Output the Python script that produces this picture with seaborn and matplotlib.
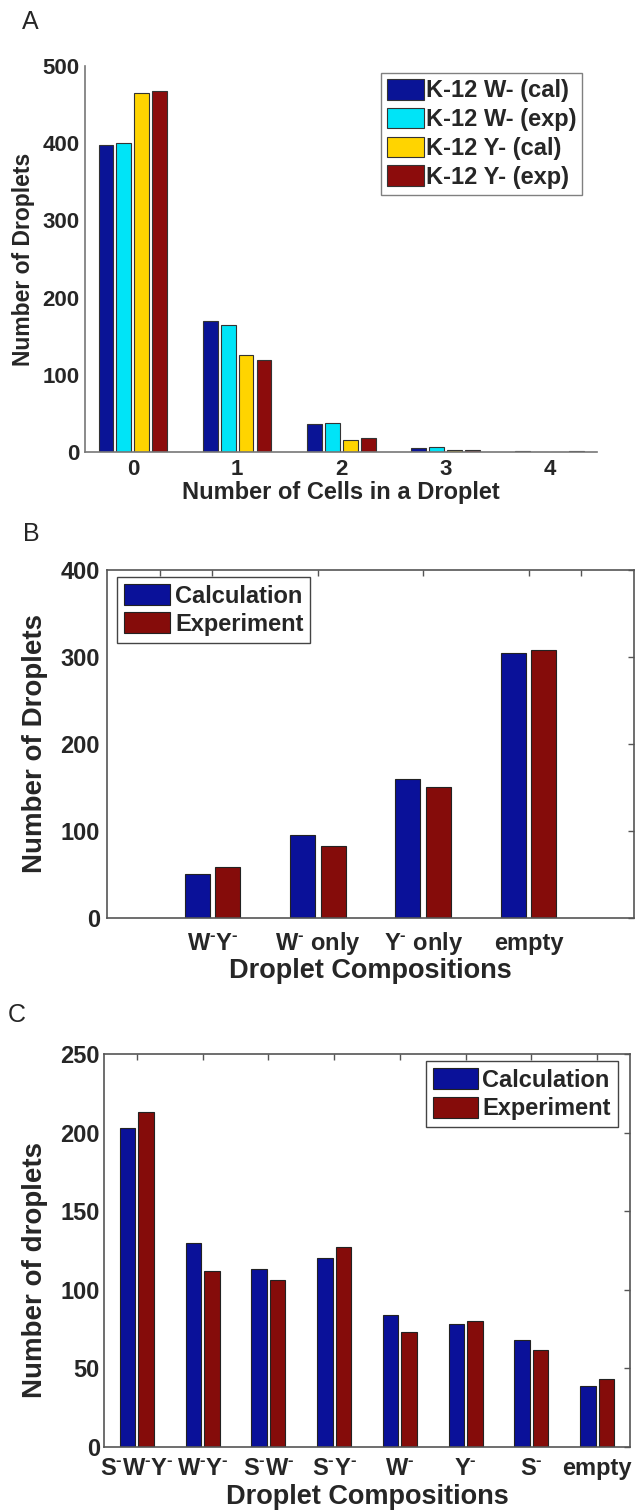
import pandas as pd
import matplotlib
matplotlib.use("Agg")
import matplotlib.pyplot as plt
import seaborn as sns

# Panel A: number of cells in a droplet
cells = ["0", "1", "2", "3", "4"]
series_a = ["K-12 W- (cal)", "K-12 W- (exp)", "K-12 Y- (cal)", "K-12 Y- (exp)"]
w_cal = [397, 169, 36, 5, 1]
w_exp = [400, 165, 38, 7, 0]
y_cal = [465, 125, 16, 2, 0]
y_exp = [468, 119, 18, 3, 1]

# superscript minus, drawn as a small raised hyphen
m = r"$^{\text{-}}$"

# Panel B: two-strain droplet compositions
comp_b = ["W" + m + "Y" + m, "W" + m + " only", "Y" + m + " only", "empty"]
calc_b = [50, 95, 160, 304]
exp_b = [58, 83, 150, 308]

# Panel C: three-strain droplet compositions
comp_c = ["S" + m + "W" + m + "Y" + m, "W" + m + "Y" + m, "S" + m + "W" + m,
          "S" + m + "Y" + m, "W" + m, "Y" + m, "S" + m, "empty"]
calc_c = [203, 130, 113, 120, 84, 78, 68, 39]
exp_c = [213, 112, 106, 127, 73, 80, 62, 43]

colors_a = ["#0a1496", "#00e4f7", "#ffd400", "#8c0c0c"]
colors_bc = ["#0a1199", "#850c0a"]

sns.set_style("white")
plt.rcParams["font.family"] = ["Liberation Sans", "DejaVu Sans"]
plt.rcParams["font.weight"] = "bold"
plt.rcParams["axes.labelweight"] = "bold"
plt.rcParams["mathtext.fontset"] = "custom"
plt.rcParams["mathtext.rm"] = "Liberation Sans:bold"
plt.rcParams["mathtext.default"] = "rm"

df_a = pd.DataFrame({"cells": cells, series_a[0]: w_cal, series_a[1]: w_exp,
                     series_a[2]: y_cal, series_a[3]: y_exp})
df_a = df_a.melt(id_vars="cells", var_name="series", value_name="count")

df_b = pd.DataFrame({"comp": comp_b, "Calculation": calc_b, "Experiment": exp_b})
df_b = df_b.melt(id_vars="comp", var_name="series", value_name="count")

df_c = pd.DataFrame({"comp": comp_c, "Calculation": calc_c, "Experiment": exp_c})
df_c = df_c.melt(id_vars="comp", var_name="series", value_name="count")

fig = plt.figure(figsize=(6.42, 15.10), dpi=100)
ax_a = fig.add_axes([0.1324, 0.7007, 0.798, 0.2556])
ax_b = fig.add_axes([0.1667, 0.3921, 0.8209, 0.2305])
ax_c = fig.add_axes([0.1620, 0.0417, 0.8193, 0.2603])

# ---- A ----
sns.barplot(data=df_a, x="cells", y="count", hue="series", palette=colors_a,
            width=0.69, gap=0.17, edgecolor="#333333", linewidth=0.8,
            saturation=1, errorbar=None, ax=ax_a)
ax_a.set_xlim(-0.46, 4.46)
ax_a.set_ylim(0, 500)
ax_a.set_yticks([0, 100, 200, 300, 400, 500])
ax_a.tick_params(direction="in", length=4, width=1, color="#777777",
                 labelsize=16, pad=4)
ax_a.tick_params(axis="x", pad=5)
for s in ["top", "right"]:
    ax_a.spines[s].set_visible(False)
for s in ["left", "bottom"]:
    ax_a.spines[s].set_color("#777777")
    ax_a.spines[s].set_linewidth(1.2)
ax_a.set_ylabel("Number of Droplets", fontsize=16.5, va="center")
ax_a.set_xlabel("Number of Cells in a Droplet", fontsize=17, va="center")
ax_a.yaxis.set_label_coords(-0.121, 0.5)
ax_a.xaxis.set_label_coords(0.5, -0.104)
sns.move_legend(ax_a, "upper right", bbox_to_anchor=(0.971, 0.982), title=None,
                frameon=True, fontsize=17, handlelength=1.57, handleheight=0.97,
                labelspacing=0.23, borderpad=0.25, handletextpad=0.1,
                borderaxespad=0, fancybox=False, edgecolor="#808080",
                framealpha=1)

# ---- B ----
sns.barplot(data=df_b, x="comp", y="count", hue="series", palette=colors_bc,
            width=0.58, gap=0.18, edgecolor="#222222", linewidth=0.8,
            saturation=1, errorbar=None, ax=ax_b)
ax_b.set_xlim(-1, 4)
ax_b.set_xticks([-0.5, 0, 1, 2, 3, 3.5], [""] + comp_b + [""])
ax_b.set_ylim(0, 400)
ax_b.set_yticks([0, 100, 200, 300, 400])
ax_b.tick_params(direction="in", length=4, width=1, color="#555555",
                 top=True, right=True, labelsize=17, pad=5)
ax_b.tick_params(axis="x", pad=23)
for lab in ax_b.get_xticklabels():
    lab.set_va("baseline")
for s in ax_b.spines.values():
    s.set_color("#555555")
    s.set_linewidth(1.2)
ax_b.set_ylabel("Number of Droplets", fontsize=20, va="center")
ax_b.set_xlabel("Droplet Compositions", fontsize=19.5, va="center")
ax_b.yaxis.set_label_coords(-0.137, 0.5)
ax_b.xaxis.set_label_coords(0.5, -0.152)
sns.move_legend(ax_b, "upper left", bbox_to_anchor=(0.019, 0.98), title=None,
                frameon=True, fontsize=17, handlelength=1.95, handleheight=1.0,
                labelspacing=0.2, borderpad=0.3, handletextpad=0.2,
                borderaxespad=0, fancybox=False, edgecolor="#444444",
                framealpha=1)

# ---- C ----
sns.barplot(data=df_c, x="comp", y="count", hue="series", palette=colors_bc,
            width=0.56, gap=0.16, edgecolor="#222222", linewidth=0.8,
            saturation=1, errorbar=None, ax=ax_c)
ax_c.set_xlim(-0.5, 7.5)
ax_c.set_ylim(0, 250)
ax_c.set_yticks([0, 50, 100, 150, 200, 250])
ax_c.tick_params(direction="in", length=4, width=1, color="#555555",
                 top=True, right=True, labelsize=17, pad=3)
ax_c.tick_params(axis="x", pad=20)
for lab in ax_c.get_xticklabels():
    lab.set_va("baseline")
for s in ax_c.spines.values():
    s.set_color("#555555")
    s.set_linewidth(1.2)
ax_c.set_ylabel("Number of droplets", fontsize=20, va="center")
ax_c.set_xlabel("Droplet Compositions", fontsize=19.5, va="center")
ax_c.yaxis.set_label_coords(-0.131, 0.45)
ax_c.xaxis.set_label_coords(0.5, -0.127)
sns.move_legend(ax_c, "upper right", bbox_to_anchor=(0.977, 0.982), title=None,
                frameon=True, fontsize=17, handlelength=1.9, handleheight=1.0,
                labelspacing=0.2, borderpad=0.3, handletextpad=0.2,
                borderaxespad=0, fancybox=False, edgecolor="#444444",
                framealpha=1)

for ax in [ax_a, ax_b, ax_c]:
    ax.get_legend().get_frame().set_linewidth(1.0)

# panel letters
fig.text(30 / 642, 1 - 22 / 1510, "A", fontsize=18, fontweight="normal",
         ha="center", va="center")
fig.text(31 / 642, 1 - 534 / 1510, "B", fontsize=18, fontweight="normal",
         ha="center", va="center")
fig.text(17 / 642, 1 - 1015 / 1510, "C", fontsize=18, fontweight="normal",
         ha="center", va="center")

fig.savefig("out.png", dpi=100)
